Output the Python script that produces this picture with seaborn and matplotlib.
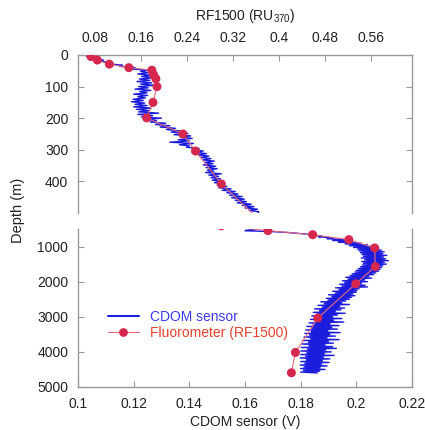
import numpy as np
import matplotlib
matplotlib.use("Agg")
import matplotlib.pyplot as plt
import seaborn as sns
from matplotlib.lines import Line2D

sns.set_style("white")
plt.rcParams['font.family'] = ['Liberation Sans', 'DejaVu Sans']
plt.rcParams['mathtext.default'] = 'regular'

# CDOM sensor profile, upper 500 m (4 m bins), volts
cdom_top_depth = np.arange(0, 500, 4)
cdom_top = [
    0.1040, 0.1030, 0.1068, 0.1055, 0.1092, 0.1080, 0.1118, 0.1110, 0.1160, 0.1150,
    0.1205, 0.1190, 0.1248, 0.1225, 0.1255, 0.1215, 0.1262, 0.1228, 0.1270, 0.1220,
    0.1258, 0.1212, 0.1265, 0.1225, 0.1275, 0.1218, 0.1252, 0.1205, 0.1262, 0.1222,
    0.1248, 0.1200, 0.1250, 0.1215, 0.1242, 0.1198, 0.1235, 0.1192, 0.1240, 0.1205,
    0.1248, 0.1200, 0.1262, 0.1210, 0.1255, 0.1218, 0.1290, 0.1215, 0.1268, 0.1228,
    0.1300, 0.1245, 0.1282, 0.1260, 0.1315, 0.1278, 0.1330, 0.1295, 0.1350, 0.1318,
    0.1365, 0.1335, 0.1395, 0.1345, 0.1405, 0.1370, 0.1410, 0.1360, 0.1400, 0.1330,
    0.1415, 0.1365, 0.1400, 0.1390, 0.1435, 0.1410, 0.1450, 0.1420, 0.1462, 0.1432,
    0.1470, 0.1440, 0.1478, 0.1448, 0.1490, 0.1455, 0.1485, 0.1450, 0.1495, 0.1460,
    0.1500, 0.1465, 0.1488, 0.1458, 0.1515, 0.1470, 0.1505, 0.1478, 0.1512, 0.1482,
    0.1520, 0.1490, 0.1528, 0.1500, 0.1535, 0.1505, 0.1550, 0.1518, 0.1565, 0.1535,
    0.1575, 0.1545, 0.1590, 0.1552, 0.1598, 0.1565, 0.1605, 0.1572, 0.1622, 0.1590,
    0.1632, 0.1600, 0.1645, 0.1615, 0.1650,
]

# CDOM sensor profile below 500 m (25 m bins), volts
cdom_deep_depth = np.arange(550, 4625, 25)
cdom_deep = [
    0.1600, 0.1700, 0.1755, 0.1790, 0.1830, 0.1840, 0.1875, 0.1865, 0.1915, 0.1895,
    0.1955, 0.1915, 0.1985, 0.1935, 0.2015, 0.1960, 0.2040, 0.1975, 0.2065, 0.1990,
    0.2080, 0.2005, 0.2090, 0.2010, 0.2100, 0.2015, 0.2095, 0.2020, 0.2110, 0.2025,
    0.2098, 0.2018, 0.2105, 0.2030, 0.2115, 0.2020, 0.2100, 0.2025, 0.2108, 0.2022,
    0.2095, 0.2015, 0.2090, 0.2008, 0.2085, 0.2000, 0.2080, 0.1995, 0.2070, 0.1985,
    0.2062, 0.1978, 0.2045, 0.1962, 0.2055, 0.1970, 0.2030, 0.1950, 0.2040, 0.1958,
    0.2018, 0.1940, 0.2032, 0.1948, 0.2040, 0.1925, 0.2010, 0.1938, 0.2002, 0.1915,
    0.2000, 0.1925, 0.1988, 0.1900, 0.1995, 0.1912, 0.1982, 0.1892, 0.1975, 0.1898,
    0.1962, 0.1872, 0.1948, 0.1885, 0.1975, 0.1862, 0.1940, 0.1878, 0.1958, 0.1850,
    0.1945, 0.1868, 0.1925, 0.1845, 0.1960, 0.1858, 0.1932, 0.1840, 0.1915, 0.1862,
    0.1948, 0.1835, 0.1918, 0.1852, 0.1955, 0.1830, 0.1905, 0.1845, 0.1938, 0.1822,
    0.1912, 0.1840, 0.1932, 0.1818, 0.1898, 0.1838, 0.1942, 0.1815, 0.1905, 0.1832,
    0.1925, 0.1812, 0.1895, 0.1835, 0.1938, 0.1808, 0.1900, 0.1828, 0.1918, 0.1805,
    0.1888, 0.1830, 0.1915, 0.1802, 0.1928, 0.1825, 0.1890, 0.1800, 0.1910, 0.1822,
    0.1885, 0.1800, 0.1920, 0.1818, 0.1882, 0.1798, 0.1905, 0.1820, 0.1878, 0.1800,
    0.1902, 0.1815, 0.1875, 0.1798, 0.1895, 0.1812, 0.1870, 0.1800, 0.1888, 0.1810,
    0.1868, 0.1800, 0.1860,
]

# Fluorometer (RF1500) bottle samples
rf_depth = [5, 16, 29, 40, 48, 62, 75, 100, 150, 199, 250, 304, 408,
            546, 662, 802, 1040, 1570, 2060, 3035, 4015, 4595]
rf1500 = [0.073, 0.084, 0.105, 0.139, 0.179, 0.182, 0.186, 0.188, 0.181, 0.170, 0.233, 0.255, 0.300,
          0.381, 0.459, 0.522, 0.567, 0.568, 0.534, 0.468, 0.429, 0.422]

cdom_ticks = [0.1, 0.12, 0.14, 0.16, 0.18, 0.2, 0.22]
cdom_ticklabels = ["0.1", "0.12", "0.14", "0.16", "0.18", "0.2", "0.22"]
rf_ticks = [0.08, 0.16, 0.24, 0.32, 0.4, 0.48, 0.56]
rf_ticklabels = ["0.08", "0.16", "0.24", "0.32", "0.4", "0.48", "0.56"]
top_depth_ticks = [0, 100, 200, 300, 400]
deep_depth_ticks = [1000, 2000, 3000, 4000, 5000]

depth = np.concatenate([cdom_top_depth, cdom_deep_depth])
cdom = np.concatenate([cdom_top, cdom_deep])

blue = '#1c1cdc'
red = '#d6284f'
pink = '#e46a7c'
spine_col = '#9a9a9a'
txt = '#222222'

fig = plt.figure(figsize=(4.25, 4.3), dpi=100)
ax_top = fig.add_axes([0.1835, 0.5047, 0.7859, 0.3674])
ax_bot = fig.add_axes([0.1835, 0.1, 0.7859, 0.3674])

twins = []
for ax, ylim, yticks in [(ax_top, (500, 0), top_depth_ticks),
                         (ax_bot, (5000, 500), deep_depth_ticks)]:
    sns.lineplot(x=cdom, y=depth, sort=False, estimator=None, color=blue, lw=1.0, ax=ax)
    ax.set_xlim(0.1, 0.22)
    tw = ax.twiny()
    sns.lineplot(x=rf1500, y=rf_depth, sort=False, estimator=None, color=pink, lw=0.8, ax=tw)
    sns.scatterplot(x=rf1500, y=rf_depth, color=red, s=42, edgecolor='none', ax=tw, zorder=3)
    tw.set_xlim(0.0504, 0.632)
    ax.set_ylim(*ylim)
    ax.set_yticks(yticks)
    ax.tick_params(axis='y', direction='in', left=True, right=True, labelleft=True,
                   labelright=False, length=4, color=spine_col, pad=7,
                   labelsize=10, labelcolor=txt)
    for s in tw.spines.values():
        s.set_visible(False)
    for s in ax.spines.values():
        s.set_color(spine_col)
        s.set_linewidth(1.0)
    twins.append(tw)

tw_top, tw_bot = twins

# upper panel: RF1500 axis on top, no bottom axis
ax_top.spines['bottom'].set_visible(False)
ax_top.tick_params(axis='x', bottom=False, labelbottom=False, top=False)
tw_top.set_xticks(rf_ticks, rf_ticklabels)
tw_top.tick_params(axis='x', direction='in', top=True, labeltop=True, bottom=False,
                   length=4, color=spine_col, pad=7, labelsize=10, labelcolor=txt)
tw_top.set_xlabel("RF1500 (RU$_{370}$)", fontsize=10, color=txt, labelpad=8)

# lower panel: CDOM axis on bottom, no top axis
ax_bot.spines['top'].set_visible(False)
ax_bot.set_xticks(cdom_ticks, cdom_ticklabels)
ax_bot.tick_params(axis='x', direction='in', bottom=True, labelbottom=True, top=False,
                   length=4, color=spine_col, pad=7, labelsize=10, labelcolor=txt)
ax_bot.set_xlabel("CDOM sensor (V)", fontsize=10, color=txt, labelpad=3)
tw_bot.tick_params(axis='x', top=False, labeltop=False, bottom=False, labelbottom=False)

fig.text(0.043, 0.51, "Depth (m)", rotation=90, ha='center', va='center',
         fontsize=10.5, color=txt)

handles = [Line2D([], [], color=blue, lw=1.5),
           Line2D([], [], color=pink, lw=0.8, marker='o', markersize=6.3,
                  markerfacecolor=red, markeredgecolor='none')]
ax_bot.legend(handles, ["CDOM sensor", "Fluorometer (RF1500)"], frameon=False,
              loc='center left', bbox_to_anchor=(0.09, 0.394), borderpad=0,
              borderaxespad=0, handlelength=2.2, handletextpad=0.8,
              labelspacing=0.15, fontsize=10, labelcolor=['#3b3bea', '#e8402c'])

fig.savefig('out.png', dpi=100)
